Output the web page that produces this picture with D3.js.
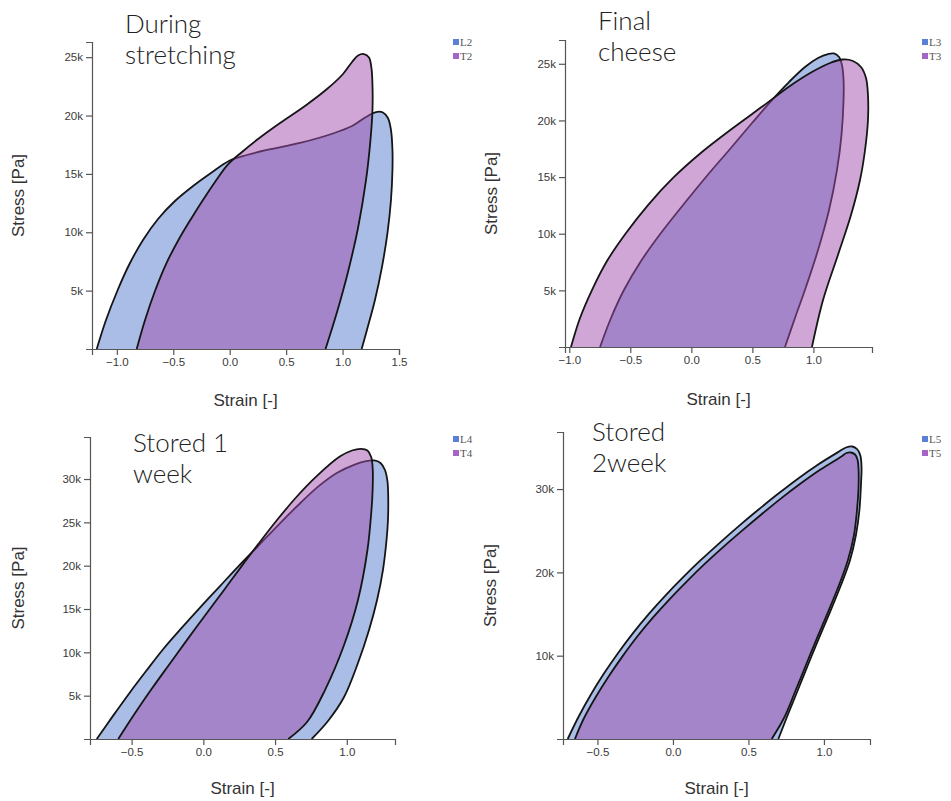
<!DOCTYPE html>
<html>
<head>
<meta charset="utf-8">
<script src="https://cdn.jsdelivr.net/npm/d3@7"></script>
<style>
  body { margin: 0; background: #fff; }
  .tick text { font-family: "Liberation Sans", Arial, sans-serif; font-size: 11.5px; fill: #3a3a3a; }
  .tick line, .domain { stroke: #555; stroke-width: 1.2; }
</style>
</head>
<body>
<svg id="chart" width="951" height="801"></svg>
<script>
// strain [-], stress [Pa]
const loopL2 = [[-1.178,0],[-1.096,2480],[-0.996,4970],[-0.888,7280],[-0.768,9340],[-0.635,11140],[-0.485,12680],[-0.325,13960],[-0.166,15080],[-0.003,16130],[0.153,16620],[0.330,17050],[0.623,17650],[0.915,18460],[1.084,19100],[1.208,19880],[1.296,20300],[1.358,20260],[1.402,19790],[1.429,18760],[1.442,17050],[1.442,15330],[1.429,12760],[1.398,9940],[1.349,7020],[1.287,4200],[1.216,1630],[1.169,0]];
const loopT2 = [[-0.824,0],[-0.750,2480],[-0.662,4970],[-0.564,7280],[-0.454,9340],[-0.343,11140],[-0.237,12760],[-0.130,14310],[-0.015,15810],[0.109,16880],[0.251,17990],[0.446,19360],[0.667,20820],[0.862,22270],[1.004,23560],[1.084,24590],[1.137,25140],[1.190,25270],[1.234,24970],[1.256,24070],[1.265,22620],[1.265,20480],[1.247,17900],[1.208,14480],[1.137,10370],[1.048,6600],[0.951,3170],[0.849,0]];

const loopL3 = [[-0.748,0],[-0.658,2560],[-0.552,5030],[-0.412,7590],[-0.249,10060],[-0.068,12530],[0.120,15010],[0.317,17480],[0.497,19770],[0.653,21710],[0.800,23390],[0.931,24720],[1.038,25510],[1.120,25860],[1.169,25910],[1.210,25600],[1.234,24890],[1.247,23570],[1.247,21800],[1.230,18710],[1.193,15620],[1.128,12090],[1.038,8560],[0.939,5300],[0.849,2560],[0.767,0]];
const loopT3 = [[-0.986,0],[-0.912,2560],[-0.814,5030],[-0.691,7590],[-0.535,10060],[-0.355,12530],[-0.150,14920],[0.087,17210],[0.341,19330],[0.587,21270],[0.808,23040],[0.988,24270],[1.136,25070],[1.242,25380],[1.324,25250],[1.390,24720],[1.431,23740],[1.447,22240],[1.447,20040],[1.423,17390],[1.382,14740],[1.308,11650],[1.201,8120],[1.079,4150],[0.988,0]];

const loopL4 = [[-0.743,0],[-0.631,2640],[-0.517,5260],[-0.399,7840],[-0.279,10390],[-0.151,12820],[-0.020,15220],[0.113,17590],[0.246,19950],[0.382,22270],[0.517,24600],[0.655,26890],[0.798,29090],[0.933,30720],[1.059,31700],[1.134,32060],[1.190,32140],[1.235,31850],[1.266,31040],[1.284,29660],[1.289,27580],[1.287,25270],[1.277,22960],[1.252,19500],[1.211,16040],[1.155,12580],[1.078,8770],[0.981,4850],[0.869,2080],[0.755,0]];
const loopT4 = [[-0.593,0],[-0.479,2910],[-0.361,5760],[-0.239,8570],[-0.116,11380],[0.008,14160],[0.133,16940],[0.257,19720],[0.383,22490],[0.511,25210],[0.646,27870],[0.792,30360],[0.951,32590],[1.036,33290],[1.099,33490],[1.144,33290],[1.170,32540],[1.181,31040],[1.180,28730],[1.172,26430],[1.144,21810],[1.078,16040],[0.981,10850],[0.848,5650],[0.723,1960],[0.592,0]];

const loopL5 = [[-0.697,0],[-0.624,2700],[-0.544,5320],[-0.457,7860],[-0.363,10330],[-0.263,12740],[-0.158,15050],[-0.047,17280],[0.068,19430],[0.187,21520],[0.310,23550],[0.434,25520],[0.561,27450],[0.690,29340],[0.821,31160],[0.957,32890],[1.097,34470],[1.146,34990],[1.189,35110],[1.222,34750],[1.242,33970],[1.249,32530],[1.245,30490],[1.235,27490],[1.212,24490],[1.173,21490],[1.113,18480],[1.040,15240],[0.967,12120],[0.894,8880],[0.822,5640],[0.755,2640],[0.698,0]];
const loopT5 = [[-0.649,0],[-0.592,2400],[-0.513,4980],[-0.426,7500],[-0.333,9950],[-0.235,12330],[-0.130,14620],[-0.020,16830],[0.094,18960],[0.212,21040],[0.334,23060],[0.458,25010],[0.585,26950],[0.712,28820],[0.843,30630],[0.977,32340],[1.116,33910],[1.149,34330],[1.179,34390],[1.206,34150],[1.222,33550],[1.229,32410],[1.229,30130],[1.219,27490],[1.199,24490],[1.159,21490],[1.100,18480],[1.027,15240],[0.954,12120],[0.881,8880],[0.808,5640],[0.739,2640],[0.654,0]];

const xTicks1 = [-1.0, -0.5, 0.0, 0.5, 1.0, 1.5];
const xTicks2 = [-1.0, -0.5, 0.0, 0.5, 1.0];
const xTicks3 = [-0.5, 0.0, 0.5, 1.0];
const yTicks5k = [5000, 10000, 15000, 20000, 25000];
const yTicks5k30 = [5000, 10000, 15000, 20000, 25000, 30000];
const yTicks10k = [10000, 20000, 30000];

const titles = [["During", "stretching"], ["Final", "cheese"], ["Stored 1", "week"], ["Stored", "2week"]];
const seriesNames = [["L2", "T2"], ["L3", "T3"], ["L4", "T4"], ["L5", "T5"]];

const fillL = "rgb(83,123,205)";
const fillT = "rgb(161,77,173)";
const legendColors = ["#5a80d8", "#a565c6"];

const panels = [
  { loops: [loopL2, loopT2], xd: [-1.22, 1.5], yd: [0, 26300], xt: xTicks1, yt: yTicks5k,
    l: 92, r: 399, t: 42, b: 349, tx: 125, ty: 33, lx: 453, ly: 39, syx: 24, sxy: 406 },
  { loops: [loopL3, loopT3], xd: [-1.035, 1.48], yd: [0, 27100], xt: xTicks2, yt: yTicks5k,
    l: 565, r: 872, t: 40, b: 347, tx: 598, ty: 30, lx: 922, ly: 39, syx: 497, sxy: 405 },
  { loops: [loopL4, loopT4], xd: [-0.79, 1.336], yd: [0, 34850], xt: xTicks3, yt: yTicks5k30,
    l: 90, r: 395, t: 437, b: 739, tx: 133, ty: 452, lx: 453, ly: 436, syx: 24, sxy: 794 },
  { loops: [loopL5, loopT5], xd: [-0.728, 1.305], yd: [0, 36850], xt: xTicks3, yt: yTicks10k,
    l: 563, r: 870, t: 432, b: 739, tx: 592, ty: 441, lx: 922, ly: 436, syx: 496, sxy: 794 }
];

const svg = d3.select("#chart");

panels.forEach(function(p, i) {
  const x = d3.scaleLinear().domain(p.xd).range([p.l, p.r]);
  const y = d3.scaleLinear().domain(p.yd).range([p.b, p.t]);
  const g = svg.append("g");

  const line = d3.line()
    .x(function(d) { return x(d[0]); })
    .y(function(d) { return y(d[1]); })
    .curve(d3.curveCatmullRom.alpha(0.5));

  // L first, T on top so the L outline shows through the T fill
  p.loops.forEach(function(pts, k) {
    g.append("path")
      .attr("d", line(pts) + "Z")
      .attr("fill", k === 0 ? fillL : fillT)
      .attr("fill-opacity", 0.5)
      .attr("stroke", "none");
    g.append("path")
      .attr("d", line(pts))
      .attr("fill", "none")
      .attr("stroke", "#151515")
      .attr("stroke-width", 1.8);
  });

  g.append("g")
    .attr("transform", "translate(0," + p.b + ")")
    .call(d3.axisBottom(x).tickValues(p.xt).tickFormat(d3.format(".1f")));
  g.append("g")
    .attr("transform", "translate(" + p.l + ",0)")
    .call(d3.axisLeft(y).tickValues(p.yt).tickFormat(function(d) { return d / 1000 + "k"; }));

  g.append("text")
    .attr("x", (p.l + p.r) / 2)
    .attr("y", p.sxy)
    .attr("text-anchor", "middle")
    .style("font-family", "'Liberation Sans', Arial, sans-serif")
    .style("font-size", "17px")
    .style("fill", "#333")
    .text("Strain [-]");

  g.append("text")
    .attr("transform", "translate(" + p.syx + "," + (p.t + p.b) / 2 + ") rotate(-90)")
    .attr("text-anchor", "middle")
    .style("font-family", "'Liberation Sans', Arial, sans-serif")
    .style("font-size", "17px")
    .style("fill", "#333")
    .text("Stress [Pa]");

  const title = g.append("text")
    .attr("x", p.tx)
    .attr("y", p.ty)
    .style("font-family", "Lato, 'Open Sans', sans-serif")
    .style("font-weight", 300)
    .style("font-size", "26px")
    .style("fill", "#222");
  title.selectAll("tspan")
    .data(titles[i])
    .join("tspan")
    .attr("x", p.tx)
    .attr("dy", function(d, j) { return j === 0 ? 0 : 31; })
    .text(function(d) { return d; });

  const size = 6;
  g.selectAll("rect.leg")
    .data(seriesNames[i])
    .join("rect")
    .attr("x", p.lx)
    .attr("y", function(d, j) { return p.ly + j * 14; })
    .attr("width", size)
    .attr("height", size)
    .style("fill", function(d, j) { return legendColors[j]; });
  g.selectAll("text.leg")
    .data(seriesNames[i])
    .join("text")
    .attr("x", p.lx + size + 1)
    .attr("y", function(d, j) { return p.ly + j * 14 + size + 1; })
    .style("font-family", "'Liberation Serif', 'Times New Roman', serif")
    .style("font-size", "11px")
    .style("fill", "#555")
    .text(function(d) { return d; });
});
</script>
</body>
</html>
